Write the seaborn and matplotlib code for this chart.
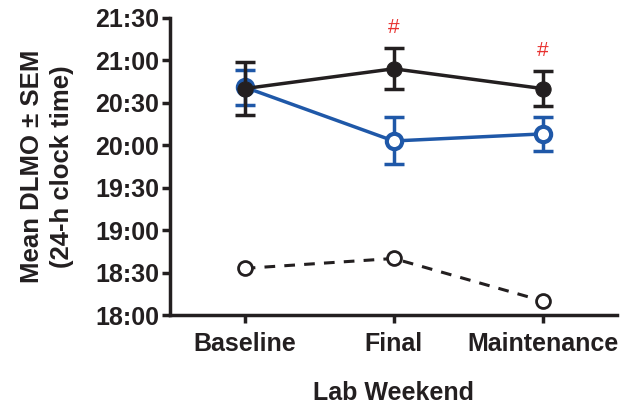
import seaborn as sns
import pandas as pd
import matplotlib.pyplot as plt
from matplotlib.ticker import FuncFormatter, MultipleLocator

# lab weekends and DLMO clock times (minutes for SEM)
weekends = ["Baseline", "Final", "Maintenance"]
black_mean = ["20:40", "20:54", "20:40"]
black_sem = [18.5, 14.5, 12.5]
blue_mean = ["20:41", "20:03", "20:08"]
blue_sem = [12.4, 16.6, 12.0]
dashed_mean = ["18:33", "18:40", "18:10"]
sig_marks = ["", "#", "#"]


def to_min(s):
    h, m = s.split(":")
    return int(h) * 60 + int(m)


df = pd.DataFrame({
    "weekend": weekends * 3,
    "dlmo": [to_min(t) for t in black_mean + blue_mean + dashed_mean],
    "group": ["black"] * 3 + ["blue"] * 3 + ["dashed"] * 3,
})

sns.set_style("ticks")
plt.rcParams["font.family"] = ["Liberation Sans", "DejaVu Sans"]
plt.rcParams["font.weight"] = "bold"

fig, ax = plt.subplots(figsize=(6.35, 4.05), dpi=100)
fig.subplots_adjust(left=0.268, right=0.972, bottom=0.222, top=0.956)

black = "#231f20"
blue = "#1f58a8"

d = df[df.group == "dashed"]
sns.lineplot(data=d, x="weekend", y="dlmo", ax=ax, color=black, lw=2.2,
             linestyle=(0, (3.5, 3)), marker="o", markersize=10,
             markerfacecolor="white", markeredgecolor=black, markeredgewidth=2)

d = df[df.group == "blue"]
ax.errorbar(range(3), d["dlmo"], yerr=blue_sem, fmt="none", ecolor=blue,
            elinewidth=2.5, capsize=7, capthick=2.5, zorder=3)
sns.lineplot(data=d, x="weekend", y="dlmo", ax=ax, color=blue, lw=2.5,
             marker="o", markersize=11, markerfacecolor="white",
             markeredgecolor=blue, markeredgewidth=3, zorder=4)

d = df[df.group == "black"]
ax.errorbar(range(3), d["dlmo"], yerr=black_sem, fmt="none", ecolor=black,
            elinewidth=2.5, capsize=7, capthick=2.5, zorder=5)
sns.lineplot(data=d, x="weekend", y="dlmo", ax=ax, color=black, lw=2.5,
             marker="o", markersize=11, markerfacecolor=black,
             markeredgecolor=black, zorder=6)

for i, mark in enumerate(sig_marks):
    if mark:
        top = d["dlmo"].iloc[i] + black_sem[i]
        ax.annotate(mark, (i, top), xytext=(0, 15), textcoords="offset points",
                    ha="center", va="center", color="#e8312f",
                    fontsize=15, fontweight="normal")

ax.set_xlim(-0.5, 2.5)
ax.set_ylim(18 * 60, 21.5 * 60)
ax.yaxis.set_major_locator(MultipleLocator(30))
ax.yaxis.set_major_formatter(FuncFormatter(lambda v, p: f"{int(v) // 60}:{int(v) % 60:02d}"))

sns.despine(ax=ax)
for s in ["left", "bottom"]:
    ax.spines[s].set_linewidth(2.5)
    ax.spines[s].set_color(black)
ax.tick_params(width=2.5, length=6, color=black, labelsize=18, labelcolor=black, pad=2)
ax.tick_params(axis="x", pad=6)

ax.set_xlabel("Lab Weekend", fontsize=18, fontweight="bold", color=black, labelpad=18)
ax.set_ylabel("Mean DLMO \u00b1 SEM\n(24-h clock time)", fontsize=18.5,
              fontweight="bold", color=black, labelpad=15, linespacing=1.35)

fig.savefig("out.png", dpi=100)
